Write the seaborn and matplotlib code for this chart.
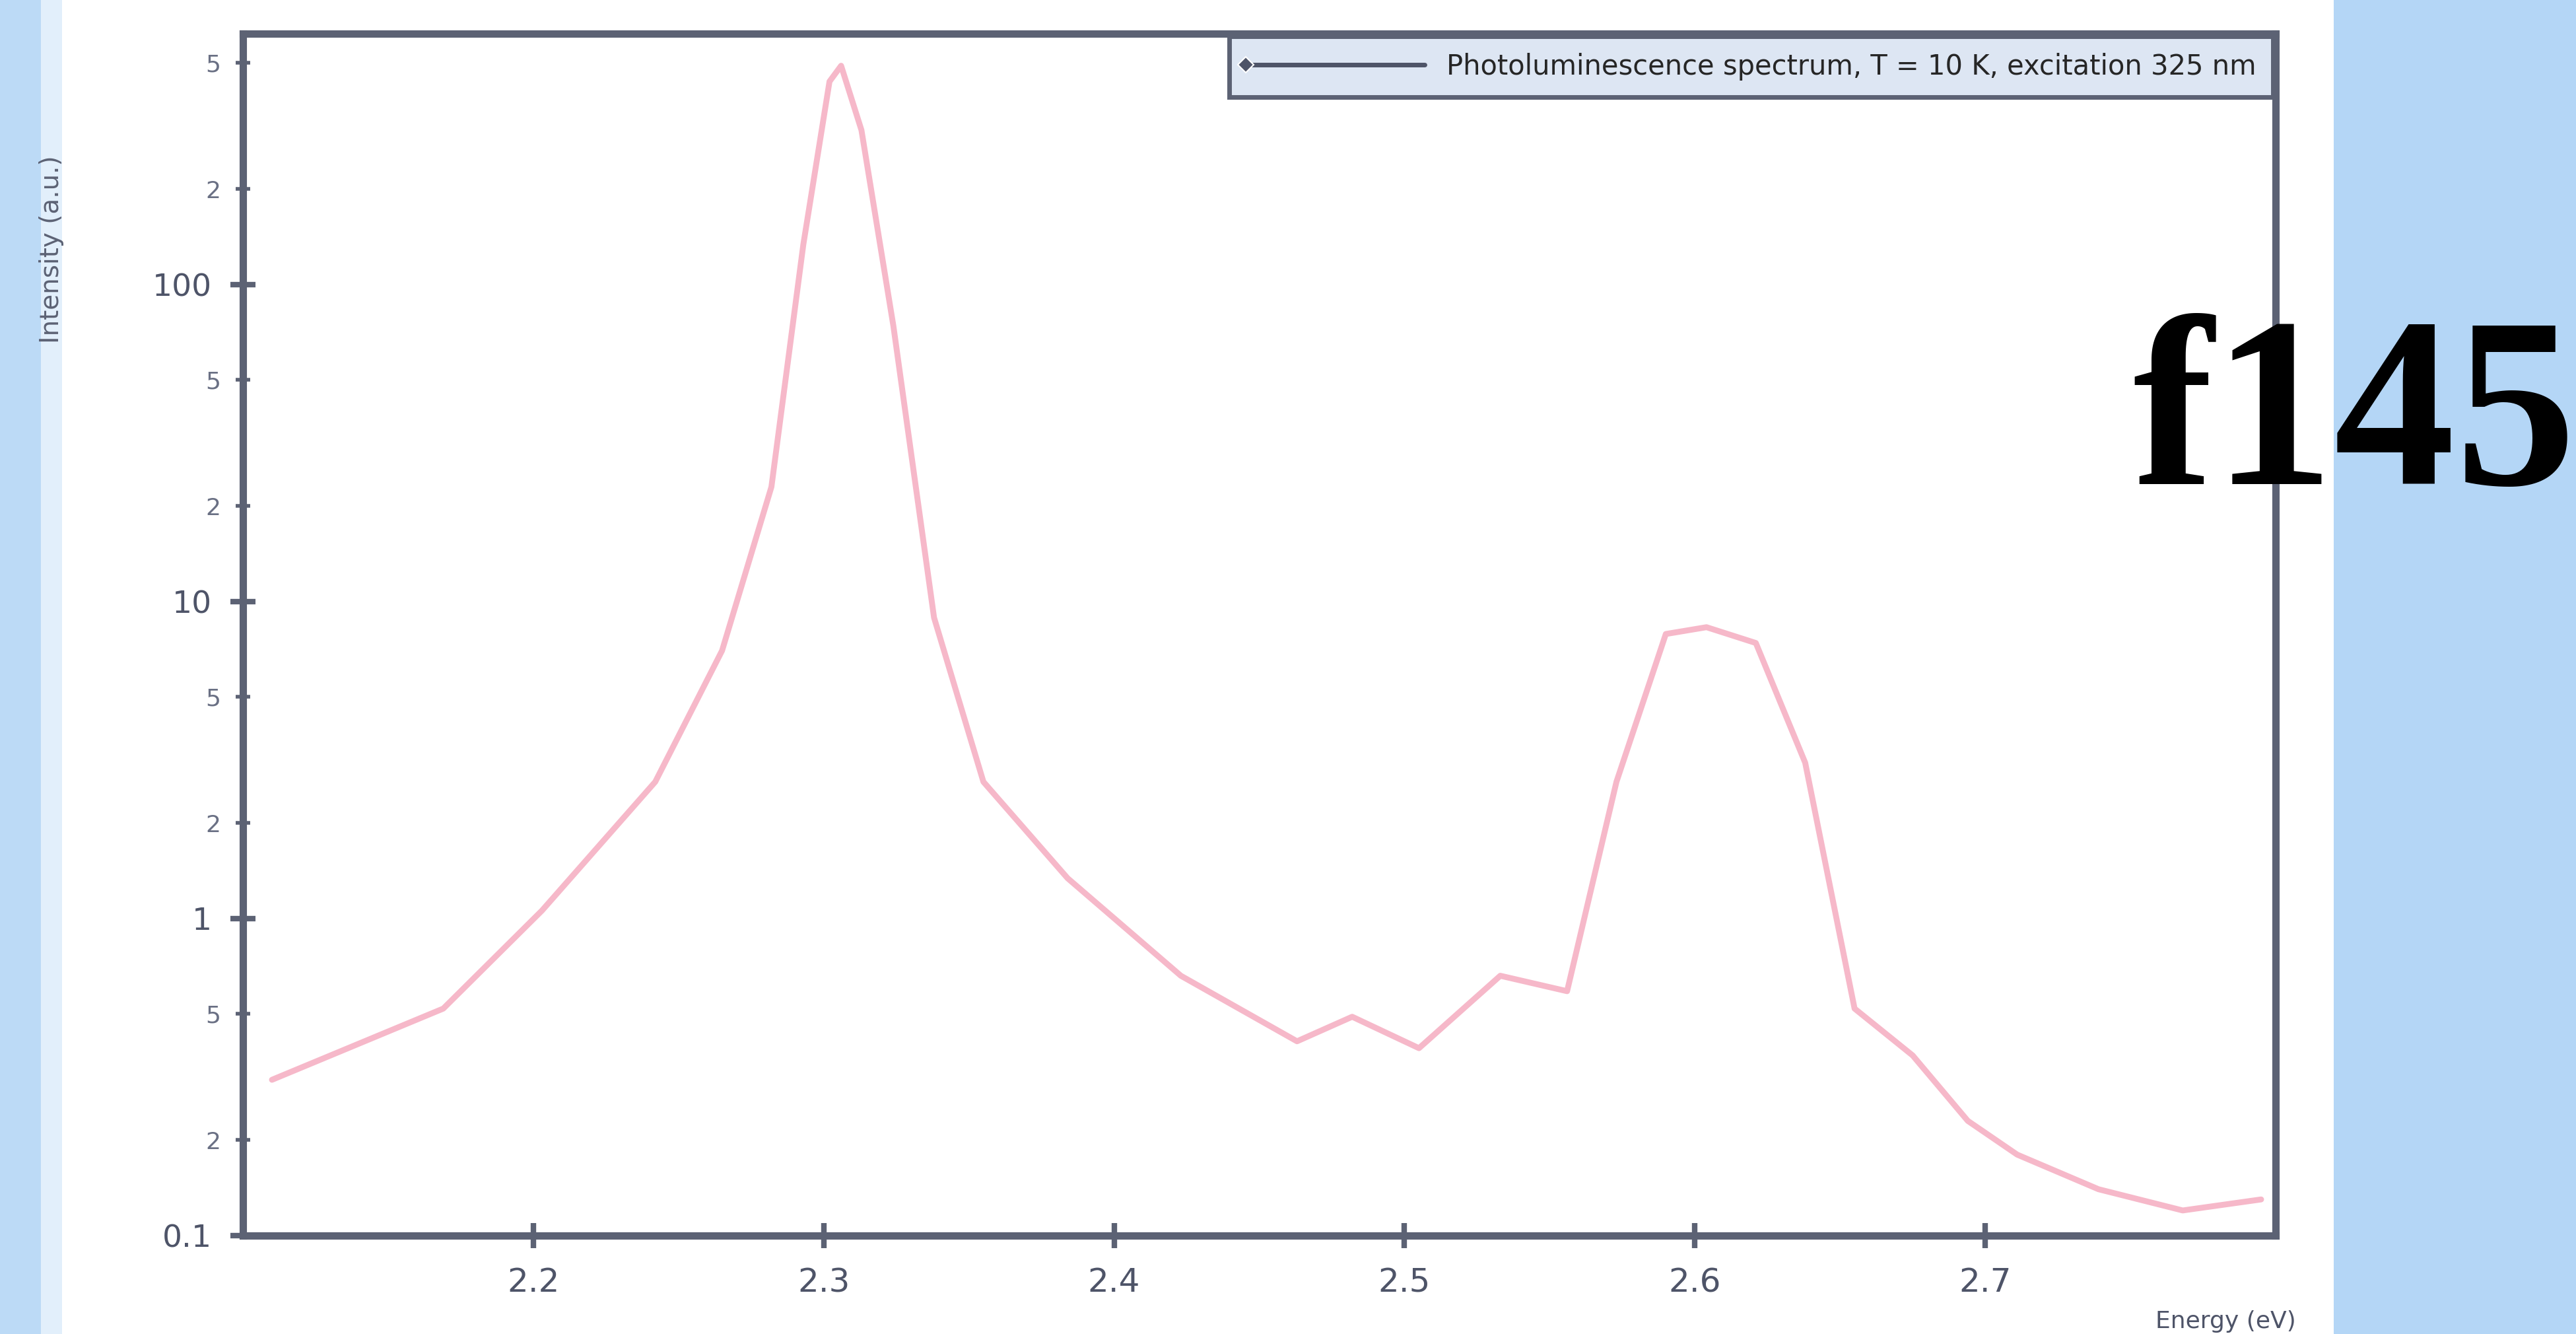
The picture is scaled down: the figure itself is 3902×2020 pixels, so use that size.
import numpy as np
import pandas as pd
import seaborn as sns
import matplotlib.pyplot as plt
from matplotlib.patches import Rectangle
from matplotlib.ticker import FixedLocator, FixedFormatter

# values (log y axis)
energy = [2.110, 2.169, 2.203, 2.242, 2.265, 2.282, 2.293, 2.302, 2.306, 2.313,
          2.324, 2.338, 2.355, 2.384, 2.423, 2.463, 2.482, 2.505, 2.533, 2.556,
          2.573, 2.590, 2.604, 2.621, 2.638, 2.655, 2.675, 2.694, 2.711, 2.739,
          2.768, 2.795]
intensity = [0.31, 0.52, 1.06, 2.7, 7.0, 23.0, 134.0, 437.0, 490.0, 307.0,
             74.0, 8.9, 2.7, 1.34, 0.66, 0.41, 0.49, 0.39, 0.66, 0.59,
             2.7, 7.9, 8.3, 7.4, 3.1, 0.52, 0.37, 0.23, 0.18, 0.14,
             0.12, 0.13]
x_ticks = [2.2, 2.3, 2.4, 2.5, 2.6, 2.7]
y_major = [0.1, 1, 10, 100]
y_major_labels = ["0.1", "1", "10", "100"]
y_minor = [0.2, 0.5, 2, 5, 20, 50, 200, 500]
y_minor_labels = ["2", "5", "2", "5", "2", "5", "2", "5"]
series_name = "Photoluminescence spectrum, T = 10 K, excitation 325 nm"
label_text = "f145"

df = pd.DataFrame({"Energy (eV)": energy, "Intensity": intensity})

sns.set_theme(style="white")
plt.rcParams['font.family'] = ['DejaVu Sans']

fig = plt.figure(figsize=(19.51, 10.1), dpi=200)
fig.patch.set_facecolor("white")

# light blue slide background bands
fig.patches.append(Rectangle((0, 0), 0.016, 1, transform=fig.transFigure,
                             facecolor="#bcdaf6", edgecolor="none", zorder=-5))
fig.patches.append(Rectangle((0.016, 0), 0.008, 1, transform=fig.transFigure,
                             facecolor="#e2effb", edgecolor="none", zorder=-5))
fig.patches.append(Rectangle((0.906, 0), 0.094, 1, transform=fig.transFigure,
                             facecolor="#b4d6f6", edgecolor="none", zorder=-5))

ax = fig.add_axes([0.0943, 0.0738, 0.7891, 0.9012])
ax.set_facecolor("white")

sns.lineplot(data=df, x="Energy (eV)", y="Intensity", ax=ax, color="#f6b8c9",
             linewidth=3.2, label=series_name, legend=True)

ax.set_yscale("log")
ax.set_xlim(2.1, 2.8)
ax.set_ylim(0.1, 620)

ax.xaxis.set_major_locator(FixedLocator(x_ticks))
ax.set_xticklabels([f"{v:.1f}" for v in x_ticks])
ax.yaxis.set_major_locator(FixedLocator(y_major))
ax.yaxis.set_major_formatter(FixedFormatter(y_major_labels))
ax.yaxis.set_minor_locator(FixedLocator(y_minor))
ax.yaxis.set_minor_formatter(FixedFormatter(y_minor_labels))

ax.tick_params(axis="both", which="major", direction="inout", length=14,
               width=3, color="#5c6274", labelcolor="#4e5468",
               left=True, bottom=True)
ax.tick_params(axis="x", which="major", pad=10, labelsize=18)
ax.tick_params(axis="y", which="major", pad=10, labelsize=17)
ax.tick_params(axis="y", which="minor", direction="inout", length=8,
               width=2, color="#5c6274", labelsize=13, labelcolor="#6a7084",
               left=True, pad=8)

for s in ax.spines.values():
    s.set_color("#5c6274")
    s.set_linewidth(4)

ax.set_xlabel("Energy (eV)", fontsize=13, color="#4e5468", ha="right", va="top")
ax.xaxis.set_label_coords(1.01, -0.062)
ax.set_ylabel("Intensity (a.u.)", fontsize=14, color="#5c6274")
ax.yaxis.set_label_coords(-0.088, 0.82)

leg = ax.legend(loc="upper right", bbox_to_anchor=(1.0, 1.0), frameon=True,
                fontsize=15, borderaxespad=0.1, handlelength=6.5,
                borderpad=0.6, facecolor="#dde6f3", edgecolor="#5c6274",
                fancybox=False, framealpha=1)
leg.get_frame().set_linewidth(2.5)
for line in leg.get_lines():
    line.set_color("#4e5468")
    line.set_marker("D")
    line.set_markersize(6)
    line.set_linewidth(2.5)
    line.set_markevery([0])

fig.text(0.828, 0.637, label_text, fontsize=132, fontweight="bold",
         family=["Liberation Serif", "DejaVu Serif"], color="black",
         ha="left", va="baseline", zorder=10)

fig.savefig("out.png", dpi=200)
